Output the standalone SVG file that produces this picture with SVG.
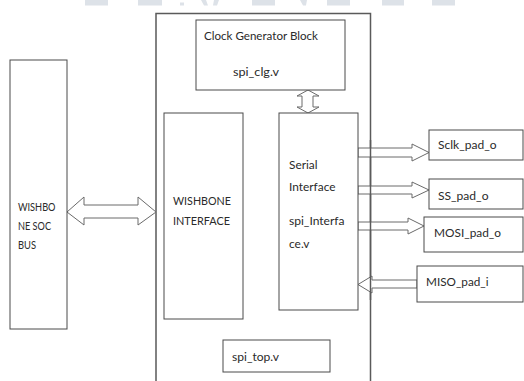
<svg xmlns="http://www.w3.org/2000/svg" width="524" height="381" viewBox="0 0 524 381">
<style>
.box{fill:#fff;stroke:#4a4a4a;stroke-width:1}
.outer{fill:none;stroke:#5a5a5a;stroke-width:1.5}
.arr{fill:#fff;stroke:#6a6a6a;stroke-width:1}
.t{font-family:Lato,"Liberation Sans",sans-serif;font-size:11.6px;fill:#2a2a2a}
.s{font-size:11px}
.wm{fill:#dde2e8}
</style>
<rect width="524" height="381" fill="#fff"/>
<g id="watermark">
<rect class="wm" x="85" y="0" width="23" height="5.5"/>
<rect class="wm" x="138" y="0" width="24" height="5.5"/>
<rect class="wm" x="180" y="2.5" width="4" height="3"/>
<polygon class="wm" points="201,0 206,0 208,5.5 204,5.5"/>
<polygon class="wm" points="214,0 219,0 217,5.5 213,5.5"/>
<rect class="wm" x="252" y="0" width="23" height="5.5"/>
<polygon class="wm" points="300,0 307,0 306,5.5 303,5.5"/>
<rect class="wm" x="327" y="0" width="23" height="5.5"/>
<rect class="wm" x="382" y="0" width="22" height="5.5"/>
<rect class="wm" x="432" y="0" width="23" height="5.5"/>
</g>
<g id="outer-spi-top">
<polyline class="outer" points="156,390 156,13.5 370.5,13.5 370.5,390"/>
</g>
<g id="connectors">
<polygon class="arr" points="67,212 84,197 84,205 138,205 138,197 156,212 138,225 138,218 84,218 84,225"/>
<polygon class="arr" points="308,90 319,96 313,96 313,107 319,107 308,113 297,107 302,107 302,96 297,96"/>
<polygon class="arr" points="358,148 412,148 412,144 429,152.5 412,161 412,157 358,157"/>
<polygon class="arr" points="358,186 412,186 412,182 429,190 412,198 412,194 358,194"/>
<polygon class="arr" points="358,222 408,222 408,218 424,226 408,234 408,230 358,230"/>
<polygon class="arr" points="417,280 372,280 372,276 358,284.5 372,293 372,288 417,288"/>
<line x1="370.5" y1="140" x2="370.5" y2="300" stroke="#5a5a5a" stroke-width="1.5"/>
</g>
<g id="wishbone-soc-bus">
<rect class="box" x="10" y="60" width="57" height="269"/>
<text class="t s" x="18" y="211" textLength="37.5" lengthAdjust="spacingAndGlyphs">WISHBO</text>
<text class="t s" x="18" y="230" textLength="33" lengthAdjust="spacingAndGlyphs">NE SOC</text>
<text class="t s" x="18" y="249" textLength="18" lengthAdjust="spacingAndGlyphs">BUS</text>
</g>
<g id="clock-generator">
<rect class="box" x="196" y="20" width="149" height="70"/>
<text class="t" x="204" y="40" textLength="114" lengthAdjust="spacingAndGlyphs">Clock Generator Block</text>
<text class="t" x="233" y="76" textLength="46" lengthAdjust="spacingAndGlyphs">spi_clg.v</text>
</g>
<g id="wishbone-interface">
<rect class="box" x="164" y="113" width="79" height="206"/>
<text class="t" x="173" y="205" textLength="58" lengthAdjust="spacingAndGlyphs">WISHBONE</text>
<text class="t" x="173" y="225" textLength="57" lengthAdjust="spacingAndGlyphs">INTERFACE</text>
</g>
<g id="serial-interface">
<rect class="box" x="279" y="113" width="79" height="197"/>
<text class="t" x="289" y="169" textLength="28.5" lengthAdjust="spacingAndGlyphs">Serial</text>
<text class="t" x="289" y="191" textLength="46.5" lengthAdjust="spacingAndGlyphs">Interface</text>
<text class="t" x="289" y="225" textLength="55.5" lengthAdjust="spacingAndGlyphs">spi_Interfa</text>
<text class="t" x="289" y="248" textLength="20.5" lengthAdjust="spacingAndGlyphs">ce.v</text>
</g>
<g id="spi-top">
<rect class="box" x="223" y="340" width="107" height="32"/>
<text class="t" x="232" y="361" textLength="47" lengthAdjust="spacingAndGlyphs">spi_top.v</text>
</g>
<g id="sclk-pad-o">
<rect class="box" x="429" y="130" width="94" height="30"/>
<text class="t" x="438" y="149" textLength="58.5" lengthAdjust="spacingAndGlyphs">Sclk_pad_o</text>
</g>
<g id="ss-pad-o">
<rect class="box" x="429" y="179" width="94" height="30"/>
<text class="t" x="438" y="200" textLength="50.5" lengthAdjust="spacingAndGlyphs">SS_pad_o</text>
</g>
<g id="mosi-pad-o">
<rect class="box" x="424" y="217" width="99" height="35"/>
<text class="t" x="434" y="237" textLength="67" lengthAdjust="spacingAndGlyphs">MOSI_pad_o</text>
</g>
<g id="miso-pad-i">
<rect class="box" x="417" y="266" width="106" height="36"/>
<text class="t" x="426" y="286" textLength="62.5" lengthAdjust="spacingAndGlyphs">MISO_pad_i</text>
</g>
</svg>
